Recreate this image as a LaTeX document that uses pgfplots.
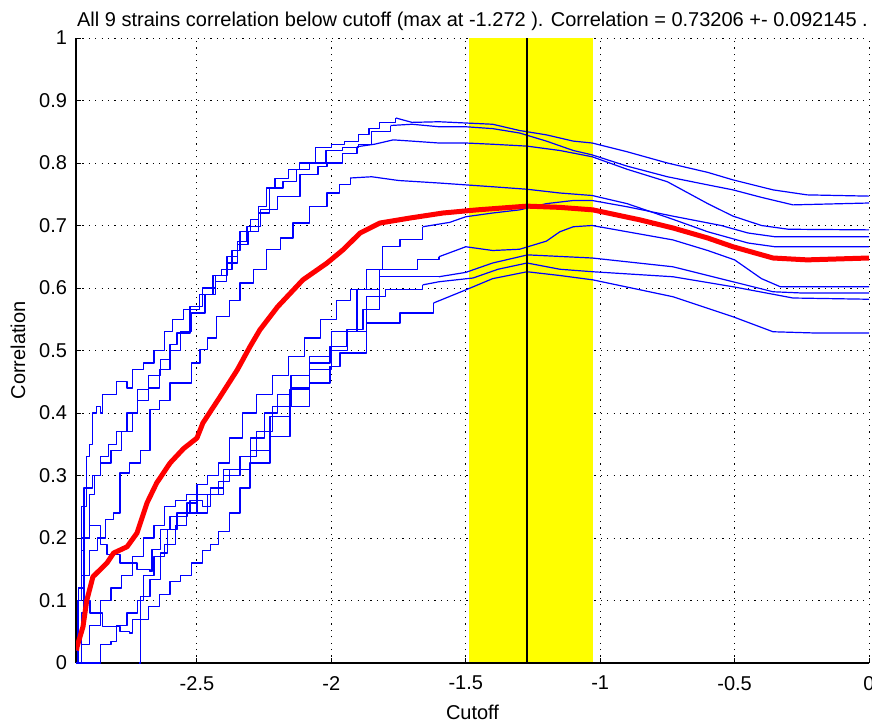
\documentclass[border=0pt]{standalone}
\usepackage{fontspec}
\setmainfont{Liberation Sans}
\usepackage{pgfplots}
\pgfplotsset{compat=1.18}
\pgfdeclarelayer{bandlayer}
\pgfplotsset{
  layers/mine/.define layer set={
    axis background,axis grid,bandlayer,axis ticks,axis lines,axis tick labels,pre main,main,axis descriptions,axis foreground
  }{/pgfplots/layers/standard},
}
\begin{document}
\fontsize{10}{12}\selectfont
\begin{tikzpicture}
\begin{axis}[
  name=ax,
  set layers=mine,
  scale only axis,
  width=396.5pt, height=312.5pt,
  xmin=-2.95, xmax=0, ymin=0, ymax=1,
  axis x line*=bottom, axis y line*=left,
  axis line style={-, line width=0.6pt, black},
  xtick={-2.5,-2,-1.5,-1,-0.5,0},
  xticklabels={-2.5,-2,-1.5,-1,-0.5,0},
  ytick={0,0.1,0.2,0.3,0.4,0.5,0.6,0.7,0.8,0.9,1},
  yticklabels={0,0.1,0.2,0.3,0.4,0.5,0.6,0.7,0.8,0.9,1},
  tick align=inside, major tick length=2.5pt,
  tick style={black, line width=0.5pt},
  grid=major,
  major grid style={black, line width=0.5pt, dash pattern=on 0.6pt off 2.6pt},
  xticklabel style={yshift=-3pt},
  yticklabel style={xshift=-1pt},
  title={All 9 strains correlation below cutoff (max at -1.272 ). Correlation = 0.73206 +- 0.092145 .},
  title style={at={(axis description cs:0.5,1.0)}, anchor=base},
  xlabel={Cutoff},
  xlabel style={at={(axis description cs:0.5,-0.0896)}, anchor=base},
  ylabel={Correlation},
  ylabel style={at={(axis description cs:-0.0732,0.5)}, anchor=center},
  every axis plot/.append style={line join=round},
  bl/.style={blue, line width=0.6pt},
]
% yellow band
\addplot[on layer=bandlayer, fill={rgb,255:red,255;green,255;blue,0}, draw=none]
  coordinates {(-1.488,0) (-1.028,0) (-1.028,1) (-1.488,1)} -- cycle;

% A
\addplot[bl, const plot] coordinates {
(-2.95,0.0) (-2.94,0.10) (-2.93,0.18) (-2.92,0.28) (-2.91,0.33) (-2.90,0.35) (-2.89,0.40) (-2.875,0.41) (-2.86,0.40) (-2.85,0.43) (-2.82,0.43) (-2.80,0.45) (-2.76,0.44) (-2.74,0.47) (-2.70,0.48) (-2.66,0.50) (-2.62,0.53) (-2.59,0.55) (-2.55,0.565) (-2.49,0.59) (-2.44,0.62) (-2.41,0.63) (-2.37,0.66) (-2.34,0.69) (-2.30,0.71) (-2.27,0.73) (-2.24,0.76) (-2.21,0.775) (-2.16,0.79) (-2.12,0.80) (-2.06,0.825) (-2.00,0.83) (-1.95,0.835) (-1.90,0.845) (-1.86,0.855) (-1.82,0.865) (-1.76,0.872)};
\addplot[bl] coordinates {
(-1.76,0.872) (-1.70,0.865) (-1.60,0.866) (-1.50,0.864) (-1.40,0.862) (-1.30,0.852) (-1.20,0.845) (-1.10,0.835) (-1.03,0.832) (-0.90,0.818) (-0.75,0.80) (-0.60,0.785) (-0.506,0.773) (-0.357,0.757) (-0.23,0.749) (0,0.747)};
% B
\addplot[bl, const plot] coordinates {
(-2.95,0.0) (-2.93,0.08) (-2.92,0.20) (-2.90,0.27) (-2.88,0.30) (-2.86,0.33) (-2.83,0.35) (-2.80,0.37) (-2.76,0.40) (-2.72,0.42) (-2.68,0.44) (-2.64,0.47) (-2.60,0.50) (-2.56,0.53) (-2.52,0.56) (-2.47,0.59) (-2.43,0.61) (-2.39,0.64) (-2.35,0.67) (-2.31,0.69) (-2.27,0.72) (-2.23,0.76) (-2.18,0.77) (-2.13,0.79) (-2.08,0.80) (-2.02,0.82) (-1.96,0.825) (-1.90,0.83) (-1.85,0.85) (-1.78,0.86)};
\addplot[bl] coordinates {
(-1.78,0.86) (-1.70,0.862) (-1.60,0.858) (-1.50,0.858) (-1.40,0.855) (-1.30,0.848) (-1.20,0.835) (-1.10,0.82) (-1.03,0.813) (-0.90,0.795) (-0.75,0.778) (-0.60,0.765) (-0.506,0.757) (-0.40,0.745) (-0.283,0.733) (0,0.736)};
% C
\addplot[bl, const plot] coordinates {
(-2.95,0.0) (-2.94,0.12) (-2.93,0.25) (-2.91,0.28) (-2.89,0.30) (-2.86,0.32) (-2.82,0.34) (-2.78,0.37) (-2.74,0.40) (-2.72,0.437) (-2.68,0.46) (-2.637,0.485) (-2.60,0.51) (-2.574,0.528) (-2.526,0.57) (-2.478,0.60) (-2.43,0.62) (-2.388,0.65) (-2.35,0.675) (-2.314,0.698) (-2.265,0.725) (-2.2,0.746) (-2.117,0.781) (-2.05,0.795) (-2.016,0.80) (-1.96,0.815) (-1.905,0.826)};
\addplot[bl] coordinates {
(-1.905,0.826) (-1.84,0.83) (-1.77,0.837) (-1.70,0.835) (-1.60,0.832) (-1.50,0.832) (-1.40,0.83) (-1.272,0.827) (-1.15,0.82) (-1.03,0.81) (-0.90,0.79) (-0.75,0.77) (-0.60,0.735) (-0.506,0.715) (-0.40,0.70) (-0.30,0.694) (0,0.693)};
% D
\addplot[bl, const plot] coordinates {
(-2.95,0.0) (-2.945,0.10) (-2.93,0.14) (-2.90,0.18) (-2.87,0.20) (-2.84,0.23) (-2.81,0.24) (-2.786,0.304) (-2.75,0.32) (-2.71,0.34) (-2.675,0.405) (-2.64,0.42) (-2.60,0.448) (-2.563,0.448) (-2.52,0.48) (-2.489,0.501) (-2.46,0.52) (-2.426,0.554) (-2.38,0.58) (-2.34,0.608) (-2.29,0.63) (-2.24,0.661) (-2.19,0.68) (-2.143,0.704) (-2.08,0.73) (-2.016,0.752) (-1.97,0.765) (-1.93,0.776)};
\addplot[bl] coordinates {
(-1.93,0.776) (-1.85,0.778) (-1.75,0.772) (-1.60,0.768) (-1.50,0.765) (-1.40,0.762) (-1.272,0.758) (-1.15,0.752) (-1.03,0.748) (-0.90,0.735) (-0.73,0.71) (-0.60,0.69) (-0.45,0.672) (-0.35,0.666) (0,0.666)};
% E
\addplot[bl, const plot] coordinates {
(-2.95,0.0) (-2.93,0.03) (-2.90,0.06) (-2.86,0.10) (-2.82,0.12) (-2.78,0.14) (-2.74,0.17) (-2.70,0.20) (-2.66,0.22) (-2.62,0.25) (-2.58,0.26) (-2.54,0.27) (-2.50,0.285) (-2.46,0.30) (-2.42,0.32) (-2.38,0.36) (-2.33,0.40) (-2.28,0.43) (-2.22,0.46) (-2.16,0.49) (-2.10,0.52) (-2.04,0.55) (-1.98,0.58) (-1.93,0.597) (-1.87,0.63) (-1.81,0.666) (-1.745,0.677) (-1.66,0.698)};
\addplot[bl] coordinates {
(-1.66,0.698) (-1.56,0.705) (-1.50,0.714) (-1.40,0.72) (-1.30,0.725) (-1.20,0.735) (-1.10,0.74) (-1.03,0.74) (-0.90,0.73) (-0.73,0.715) (-0.55,0.70) (-0.45,0.688) (-0.35,0.682) (0,0.682)};
% F
\addplot[bl, const plot] coordinates {
(-2.95,0.0) (-2.94,0.12) (-2.92,0.10) (-2.898,0.08) (-2.85,0.058) (-2.786,0.05) (-2.75,0.048) (-2.74,0.07) (-2.71,0.106) (-2.675,0.133) (-2.637,0.176) (-2.61,0.213) (-2.574,0.24) (-2.526,0.26) (-2.48,0.25) (-2.45,0.27) (-2.40,0.30) (-2.34,0.33) (-2.30,0.36) (-2.25,0.40) (-2.20,0.43) (-2.15,0.46) (-2.08,0.49) (-2.0,0.53) (-1.905,0.597) (-1.82,0.629) (-1.68,0.645) (-1.60,0.65)};
\addplot[bl] coordinates {
(-1.60,0.65) (-1.50,0.666) (-1.40,0.66) (-1.30,0.662) (-1.20,0.675) (-1.15,0.69) (-1.10,0.698) (-1.03,0.70) (-0.90,0.69) (-0.73,0.677) (-0.60,0.66) (-0.50,0.645) (-0.40,0.615) (-0.33,0.602) (0,0.602)};
% G
\addplot[bl, const plot] coordinates {
(-2.95,0.02) (-2.94,0.10) (-2.93,0.20) (-2.90,0.22) (-2.86,0.19) (-2.835,0.173) (-2.786,0.16) (-2.723,0.149) (-2.675,0.146) (-2.667,0.181) (-2.637,0.213) (-2.60,0.234) (-2.537,0.256) (-2.50,0.24) (-2.46,0.27) (-2.42,0.29) (-2.38,0.31) (-2.30,0.34) (-2.228,0.394) (-2.154,0.437) (-2.08,0.48) (-2.005,0.506) (-1.942,0.533) (-1.882,0.565) (-1.82,0.618) (-1.70,0.618) (-1.60,0.618)};
\addplot[bl] coordinates {
(-1.60,0.618) (-1.50,0.625) (-1.40,0.64) (-1.27,0.653) (-1.03,0.648) (-0.73,0.634) (-0.506,0.61) (-0.357,0.594) (-0.25,0.592) (0,0.592)};
% H
\addplot[bl, const plot] coordinates {
(-2.95,0) (-2.87,0) (-2.86,0.03) (-2.82,0.035) (-2.80,0.06) (-2.76,0.08) (-2.72,0.10) (-2.70,0.14) (-2.66,0.17) (-2.62,0.19) (-2.58,0.22) (-2.54,0.24) (-2.50,0.27) (-2.45,0.28) (-2.40,0.31) (-2.34,0.33) (-2.28,0.37) (-2.22,0.41) (-2.15,0.44) (-2.08,0.47) (-2.00,0.50) (-1.94,0.53) (-1.87,0.586) (-1.80,0.597) (-1.66,0.605)};
\addplot[bl] coordinates {
(-1.66,0.605) (-1.60,0.61) (-1.473,0.616) (-1.38,0.63) (-1.272,0.64) (-1.15,0.63) (-1.027,0.626) (-0.729,0.618) (-0.506,0.602) (-0.283,0.584) (0,0.582)};
% I
\addplot[bl, const plot] coordinates {
(-2.715,0) (-2.71,0.07) (-2.68,0.09) (-2.64,0.11) (-2.60,0.13) (-2.56,0.14) (-2.52,0.16) (-2.48,0.18) (-2.45,0.19) (-2.42,0.21) (-2.38,0.24) (-2.34,0.28) (-2.303,0.32) (-2.228,0.362) (-2.154,0.41) (-2.08,0.448) (-2.005,0.474) (-1.968,0.496) (-1.87,0.544) (-1.745,0.56) (-1.62,0.576)};
\addplot[bl] coordinates {
(-1.62,0.576) (-1.50,0.597) (-1.40,0.615) (-1.272,0.626) (-1.15,0.62) (-1.027,0.613) (-0.729,0.586) (-0.506,0.554) (-0.357,0.53) (-0.2,0.528) (0,0.528)};

% mean (red)
\addplot[red, line width=2.5pt] coordinates {
(-2.948,0.02) (-2.946,0.026) (-2.924,0.058) (-2.91,0.10) (-2.887,0.138) (-2.835,0.16) (-2.81,0.176) (-2.76,0.186) (-2.723,0.208) (-2.686,0.256) (-2.65,0.288) (-2.6,0.32) (-2.55,0.343) (-2.5,0.360) (-2.478,0.384) (-2.414,0.426) (-2.35,0.469) (-2.303,0.506) (-2.266,0.533) (-2.2,0.57) (-2.106,0.613) (-2.016,0.64) (-1.957,0.661) (-1.893,0.688) (-1.819,0.704) (-1.707,0.712) (-1.585,0.72) (-1.458,0.725) (-1.272,0.731) (-1.15,0.729) (-1.027,0.725) (-0.852,0.709) (-0.729,0.696) (-0.6,0.68) (-0.506,0.666) (-0.357,0.648) (-0.23,0.645) (0,0.648)};

% max line
\addplot[black, line width=0.6pt] coordinates {(-1.272,0) (-1.272,1)};
\end{axis}
\pgfresetboundingbox
\path[use as bounding box] ([xshift=-38pt,yshift=-31pt]ax.south west) rectangle ([xshift=1.5pt,yshift=19pt]ax.north east);
\end{tikzpicture}
\end{document}
